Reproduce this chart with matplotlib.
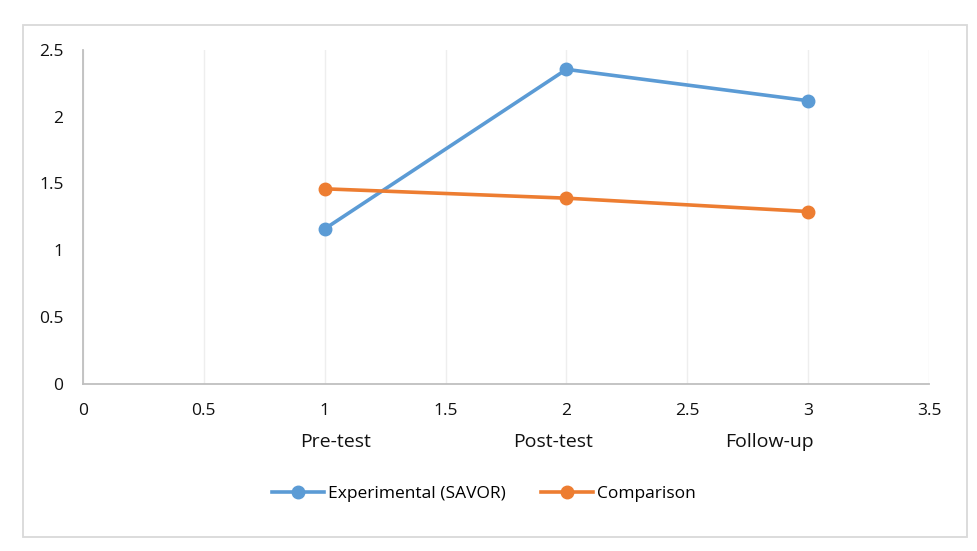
import matplotlib
matplotlib.use("Agg")
import matplotlib.pyplot as plt
from matplotlib.patches import Rectangle
from matplotlib.lines import Line2D

# data
x_pos = [1, 2, 3]
phases = ["Pre-test", "Post-test", "Follow-up"]
experimental = [1.16, 2.355, 2.12]
comparison = [1.46, 1.39, 1.29]
x_ticks = [0, 0.5, 1, 1.5, 2, 2.5, 3, 3.5]
y_ticks = [0, 0.5, 1, 1.5, 2, 2.5]

plt.rcParams["font.family"] = ["Open Sans", "DejaVu Sans"]

blue = "#5b9bd5"
orange = "#ed7d31"

fig = plt.figure(figsize=(9.78, 5.51), dpi=100)
ax = fig.add_axes([83 / 978, 1 - 383.7 / 551, (929 - 83) / 978, (383.7 - 50) / 551])

ax.plot(x_pos, experimental, color=blue, lw=2.6, marker="o", ms=9, label="Experimental (SAVOR)")
ax.plot(x_pos, comparison, color=orange, lw=2.6, marker="o", ms=9, label="Comparison")

ax.set_xlim(0, 3.5)
ax.set_ylim(0, 2.5)
ax.set_xticks(x_ticks)
ax.set_xticklabels([f"{t:g}" for t in x_ticks])
ax.set_yticks(y_ticks)
ax.set_yticklabels([f"{t:g}" for t in y_ticks])
ax.tick_params(length=0, labelsize=12.5, colors="#111111")
ax.tick_params(axis="x", pad=14)
ax.tick_params(axis="y", pad=14)

ax.grid(axis="x", color="#eeeeee", lw=1)
ax.set_axisbelow(True)
for side in ["top", "right"]:
    ax.spines[side].set_visible(False)
ax.spines["left"].set_color("#bfbfbf")
ax.spines["bottom"].set_color("#bfbfbf")
ax.spines["left"].set_linewidth(1.3)
ax.spines["bottom"].set_linewidth(1.3)

# phase labels under the numeric ticks (evenly spaced, as in the original)
label_x = [0.299, 0.556, 0.811]
for lx, name in zip(label_x, phases):
    ax.text(lx, -0.175, name, transform=ax.transAxes, ha="center", va="center",
            fontsize=14, color="#111111")

handles = [
    Line2D([], [], color=blue, lw=2.6, marker="o", ms=9),
    Line2D([], [], color=orange, lw=2.6, marker="o", ms=9),
]
fig.legend(handles, ["Experimental (SAVOR)", "Comparison"], loc="center",
           bbox_to_anchor=(484 / 978, 1 - 494 / 551), ncol=2, frameon=False,
           fontsize=12.5, handlelength=3.0, handletextpad=0.25, columnspacing=2.0)

# outer chart border
fig.patches.append(Rectangle((23 / 978, 1 - 537 / 551), (967 - 23) / 978, (537 - 25) / 551,
                             transform=fig.transFigure, fill=False, edgecolor="#d9d9d9", lw=1.3))

fig.savefig("out.png", dpi=100)
